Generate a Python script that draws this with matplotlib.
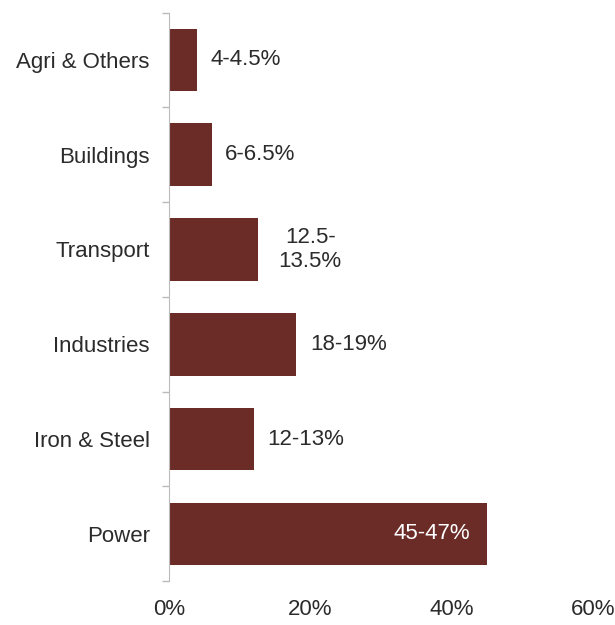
import matplotlib.pyplot as plt
import numpy as np

categories = ['Agri & Others', 'Buildings', 'Transport', 'Industries', 'Iron & Steel', 'Power']
values = [4, 6, 12.5, 18, 12, 45]
labels = ['4-4.5%', '6-6.5%', '12.5-\n13.5%', '18-19%', '12-13%', '45-47%']
xticks = [0, 20, 40, 60]
xtick_labels = ['0%', '20%', '40%', '60%']


def main():
    plt.rcParams['font.family'] = ['Liberation Sans', 'DejaVu Sans']
    fig = plt.figure(figsize=(6.15, 6.25), dpi=100)
    ax = fig.add_axes([0.275, 0.07, 0.69, 0.91])

    bar_color = '#6b2c28'
    text_color = '#2b2b2b'
    fs = 16
    y = np.arange(len(categories))
    ax.barh(y, values, height=0.66, color=bar_color)

    for i, (v, lab) in enumerate(zip(values, labels)):
        if i == len(values) - 1:
            # biggest bar gets its label inside, in white
            ax.text(v - 2.4, i, lab, ha='right', va='center', color='white', fontsize=fs)
        elif '\n' in lab:
            ax.text(v + 3.0, i, lab, ha='left', va='center', color=text_color,
                    fontsize=fs, multialignment='center', linespacing=1.15)
        else:
            ax.text(v + 1.9, i, lab, ha='left', va='center', color=text_color, fontsize=fs)

    ax.set_ylim(len(categories) - 0.5, -0.5)
    ax.set_xlim(0, 60)
    ax.set_yticks(y)
    ax.set_yticklabels(categories, fontsize=fs, color=text_color)
    ax.set_yticks(np.arange(len(categories) + 1) - 0.5, minor=True)
    ax.tick_params(axis='y', which='major', length=0, pad=14)
    ax.tick_params(axis='y', which='minor', length=5, color='#bbbbbb', width=1)

    ax.set_xticks(xticks)
    ax.set_xticklabels(xtick_labels, fontsize=fs, color=text_color)
    ax.tick_params(axis='x', length=0, pad=13)

    for side in ['top', 'right', 'bottom']:
        ax.spines[side].set_visible(False)
    ax.spines['left'].set_color('#bbbbbb')

    fig.savefig('out.png', dpi=100)


if __name__ == '__main__':
    main()
